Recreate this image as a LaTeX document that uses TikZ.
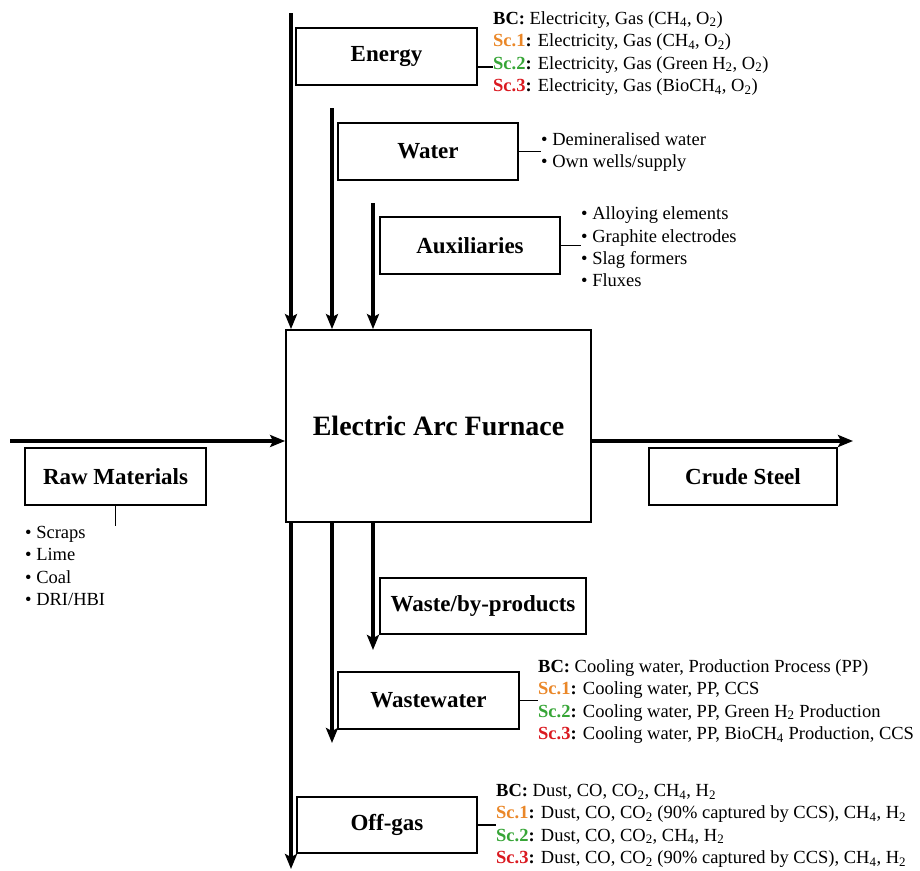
\documentclass[tikz,border=0pt]{standalone}
\usepackage{fontspec}
\setmainfont{Liberation Serif}
\usetikzlibrary{arrows.meta,calc}
\definecolor{scone}{RGB}{234,135,40}
\definecolor{sctwo}{RGB}{55,165,55}
\definecolor{scthree}{RGB}{218,25,32}
\newcommand{\bcl}{\textbf{BC:}}
\newcommand{\sone}{\textbf{\textcolor{scone}{Sc.1}:}}
\newcommand{\stwo}{\textbf{\textcolor{sctwo}{Sc.2}:}}
\newcommand{\sthree}{\textbf{\textcolor{scthree}{Sc.3}:}}
\newcommand{\sub}[1]{\textsubscript{#1}}
\begin{document}
\begin{tikzpicture}[x=1pt,y=-1pt,
  box/.style={draw, line width=1.8pt, inner sep=0pt, font=\fontsize{23}{27}\selectfont\bfseries},
  flow/.style={line width=3.3pt, -{Stealth[length=15pt,width=12pt,inset=3pt]}},
  tick/.style={line width=1.6pt},
  list/.style={inner sep=0pt, align=left, font=\fontsize{18.5}{22.4}\selectfont}]
\useasboundingbox (0,0) rectangle (920,870);

% boxes
\node[box, minimum width=181pt, minimum height=57pt] (energy) at (386.5,56.5) {Energy};
\node[box, minimum width=180pt, minimum height=57pt] (water) at (428,151.5) {Water};
\node[box, minimum width=180pt, minimum height=57pt] (aux) at (470,245.5) {Auxiliaries};
\node[box, minimum width=305pt, minimum height=192pt, font=\fontsize{28}{32}\selectfont\bfseries] (eaf) at (438.5,426) {Electric Arc Furnace};
\node[box, minimum width=181pt, minimum height=57pt] (raw) at (115.5,476.5) {Raw Materials};
\node[box, minimum width=188pt, minimum height=57pt] (crude) at (743,476.5) {Crude Steel};
\node[box, minimum width=206pt, minimum height=56pt] (waste) at (483,606) {Waste/by-products};
\node[box, minimum width=181pt, minimum height=57pt] (wwater) at (428.5,700.5) {Wastewater};
\node[box, minimum width=180pt, minimum height=56pt] (offgas) at (387,825) {Off-gas};

% lists
\node[list, anchor=west] (elist) at (493,53.5) {\bcl{} Electricity, Gas (CH\sub{4}, O\sub{2})\\
\sone{} Electricity, Gas (CH\sub{4}, O\sub{2})\\
\stwo{} Electricity, Gas (Green H\sub{2}, O\sub{2})\\
\sthree{} Electricity, Gas (BioCH\sub{4}, O\sub{2})};
\node[list, anchor=west] (wlist) at (541,152) {\textbullet{} Demineralised water\\ \textbullet{} Own wells/supply};
\node[list, anchor=west] (alist) at (581,247) {\textbullet{} Alloying elements\\ \textbullet{} Graphite electrodes\\ \textbullet{} Slag formers\\ \textbullet{} Fluxes};
\node[list, anchor=north west] (rlist) at (25,526) {\textbullet{} Scraps\\ \textbullet{} Lime\\ \textbullet{} Coal\\ \textbullet{} DRI/HBI};
\node[list, anchor=west] (wwlist) at (538,701.5) {\bcl{} Cooling water, Production Process (PP)\\
\sone{} Cooling water, PP, CCS\\
\stwo{} Cooling water, PP, Green H\sub{2} Production\\
\sthree{} Cooling water, PP, BioCH\sub{4} Production, CCS};
\node[list, anchor=west] (oglist) at (496,826) {\bcl{} Dust, CO, CO\sub{2}, CH\sub{4}, H\sub{2}\\
\sone{} Dust, CO, CO\sub{2} (90\% captured by CCS), CH\sub{4}, H\sub{2}\\
\stwo{} Dust, CO, CO\sub{2}, CH\sub{4}, H\sub{2}\\
\sthree{} Dust, CO, CO\sub{2} (90\% captured by CCS), CH\sub{4}, H\sub{2}};

% ticks
\coordinate (etick) at (493,67);
\draw[tick] (etick -| energy.east) -- (etick);
\draw[tick] (water.east) -- (water.east -| wlist.west);
\draw[tick] (aux.east) -- (aux.east -| alist.west);
\draw[tick] (raw.south) -- ++(0,20);
\draw[tick] (wwater.east) -- (wwater.east -| wwlist.west);
\draw[tick] (offgas.east) -- (offgas.east -| oglist.west);

% inflows
\coordinate (eIn) at (291,13);
\coordinate (wIn) at (332,108);
\coordinate (aIn) at (373,203);
\coordinate (rIn) at (10,441);
\draw[flow] (eIn) -- (eIn |- eaf.north);
\draw[flow] (wIn) -- (wIn |- eaf.north);
\draw[flow] (aIn) -- (aIn |- eaf.north);
\draw[flow] (rIn) -- (rIn -| eaf.west);

% outflows
\coordinate (sOut) at (853,441);
\coordinate (wasteOut) at (373,650);
\coordinate (wwOut) at (332,743);
\coordinate (ogOut) at (291,869);
\draw[flow] (sOut -| eaf.east) -- (sOut);
\draw[flow] (wasteOut |- eaf.south) -- (wasteOut);
\draw[flow] (wwOut |- eaf.south) -- (wwOut);
\draw[flow] (ogOut |- eaf.south) -- (ogOut);
\end{tikzpicture}
\end{document}
